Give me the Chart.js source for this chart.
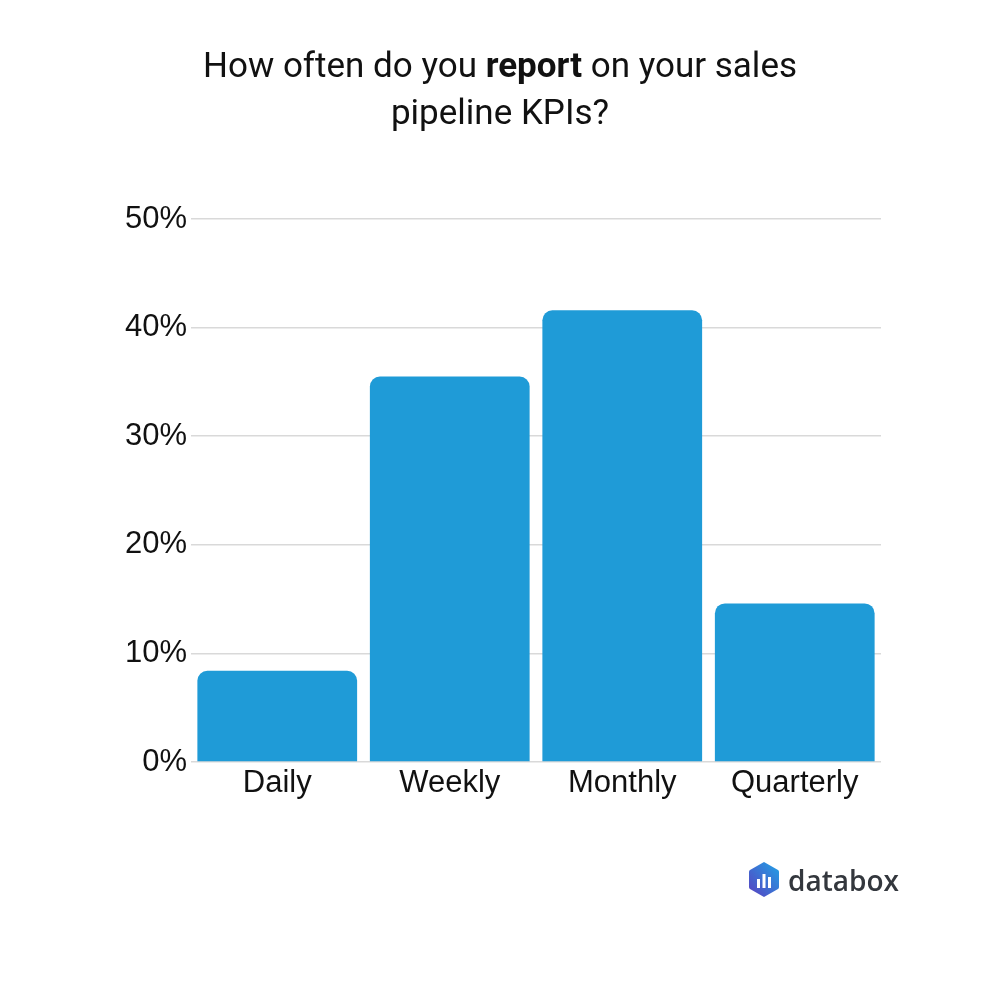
<!DOCTYPE html>
<html>
<head>
<meta charset="utf-8">
<script src="https://cdn.jsdelivr.net/npm/chart.js@4"></script>
<style>
  html, body { margin: 0; padding: 0; background: #fff; }
  #wrap { position: relative; width: 1000px; height: 1000px; }
  #chart { position: absolute; left: 0; top: 0; }
  #title {
    position: absolute; left: 0; top: 42px; width: 1000px; text-align: center;
    font-family: Roboto, sans-serif; font-size: 35px; line-height: 47px; color: #111;
  }
  #logo { position: absolute; left: 748px; top: 861px; display: flex; align-items: center; }
  #logo span {
    font-family: "Open Sans", sans-serif; font-weight: 600; font-size: 28px;
    color: #33373d; margin-left: 8px; line-height: 36px;
  }
</style>
</head>
<body>
<div id="wrap">
  <canvas id="chart" width="1000" height="1000"></canvas>
  <div id="title">How often do you <b>report</b> on your sales<br>pipeline KPIs?</div>
  <div id="logo">
    <svg width="32" height="37" viewBox="0 0 32 37">
      <defs>
        <linearGradient id="g" x1="0" y1="1" x2="1" y2="0">
          <stop offset="0" stop-color="#5a3fc0"/>
          <stop offset="1" stop-color="#1fa3e6"/>
        </linearGradient>
      </defs>
      <path d="M16 1 L30 9 Q31 9.6 31 11 L31 26 Q31 27.4 30 28 L16 36 L2 28 Q1 27.4 1 26 L1 11 Q1 9.6 2 9 Z" fill="url(#g)"/>
      <rect x="9" y="18" width="3" height="9" fill="#fff"/>
      <rect x="14.5" y="13" width="3" height="14" fill="#fff"/>
      <rect x="20" y="16" width="3" height="11" fill="#fff"/>
    </svg>
    <span>databox</span>
  </div>
</div>
<script>
// chart data
const categories = ["Daily", "Weekly", "Monthly", "Quarterly"];
const shares = [8.4, 35.5, 41.6, 14.6];
const yTicks = [0, 10, 20, 30, 40, 50];

const ctx = document.getElementById("chart");

new Chart(ctx, {
  type: "bar",
  data: {
    labels: categories,
    datasets: [
      {
        data: shares,
        backgroundColor: "#1f9bd7",
        borderRadius: { topLeft: 10, topRight: 10 },
        borderSkipped: "bottom",
        barPercentage: 0.926,
        categoryPercentage: 1,
      },
    ],
  },
  options: {
    responsive: false,
    animation: false,
    layout: { padding: { top: 219, right: 119, left: 0, bottom: 0 } },
    plugins: { legend: { display: false }, tooltip: { enabled: false } },
    scales: {
      x: {
        grid: { display: false },
        border: { display: false },
        ticks: {
          color: "#111",
          padding: -5,
          font: { family: "'Liberation Sans', Arial, sans-serif", size: 31 },
        },
        afterFit: (s) => { s.height = 238; },
      },
      y: {
        min: 0,
        max: 50,
        afterBuildTicks: (s) => { s.ticks = yTicks.map((v) => ({ value: v })); },
        grid: { color: "#d9d9d9", lineWidth: 1.5, drawTicks: false },
        border: { display: false },
        ticks: {
          color: "#111",
          padding: 4,
          font: { family: "'Liberation Sans', Arial, sans-serif", size: 31 },
          callback: (v) => v + "%",
        },
        afterFit: (s) => { s.width = 191; },
      },
    },
  },
});
</script>
</body>
</html>
